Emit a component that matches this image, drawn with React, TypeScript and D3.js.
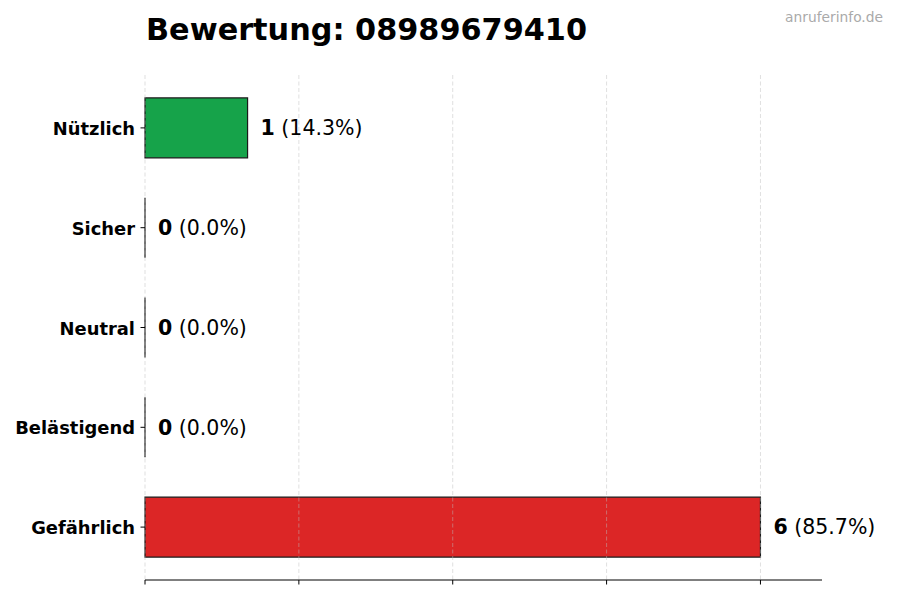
import React from "react";
import * as d3 from "d3";

const categories = ["Nützlich", "Sicher", "Neutral", "Belästigend", "Gefährlich"];
const values = [1, 0, 0, 0, 6];
const colors = ["#16a34a", "#16a34a", "#9ca3af", "#f59e0b", "#dc2626"];
const xTicks = [0, 1.5, 3, 4.5, 6];
const titleText = "Bewertung: 08989679410";
const watermark = "anruferinfo.de";

const W = 900;
const H = 600;
const FONT = "'DejaVu Sans', sans-serif";

export default function App() {
  const total = d3.sum(values);
  const x = d3.scaleLinear().domain([0, 6.6]).range([145, 822]);
  const y = d3.scaleLinear().domain([-0.53, 4.53]).range([75, 580]);
  const barH = y(0.3) - y(-0.3);

  return (
    <svg
      width={W}
      height={H}
      viewBox={`0 0 ${W} ${H}`}
      style={{ position: "absolute", left: 0, top: 0, background: "#fff" }}
      fontFamily={FONT}
    >
      <rect x={0} y={0} width={W} height={H} fill="#fff" />
      <text x={146} y={40} fontSize={30.3} fontWeight="bold" fill="#000">
        {titleText}
      </text>
      <text x={883} y={22} fontSize={13.8} fill="#aaaaaa" textAnchor="end">
        {watermark}
      </text>

      {categories.map((c, i) => {
        const x0 = x(0);
        const x1 = x(values[i]);
        const yc = y(i);
        const y0 = yc - barH / 2;
        const y1 = yc + barH / 2;
        return (
          <g key={c}>
            {values[i] > 0 && (
              <rect x={x0} y={y0} width={x1 - x0} height={barH} fill={colors[i]} />
            )}
            <path
              d={`M${x0},${y0}H${x1}V${y1}H${x0}Z`}
              fill="none"
              stroke="#1a1a1a"
              strokeWidth={1.2}
            />
          </g>
        );
      })}

      {xTicks.map((t) => (
        <line
          key={t}
          x1={x(t)}
          x2={x(t)}
          y1={75}
          y2={580}
          stroke="#bbbbbb"
          strokeOpacity={0.6}
          strokeWidth={0.8}
          strokeDasharray="4 2.5"
        />
      ))}

      <line x1={x.range()[0]} x2={x.range()[1]} y1={580} y2={580} stroke="#000" strokeWidth={1} />
      {xTicks.map((t) => (
        <line key={"t" + t} x1={x(t)} x2={x(t)} y1={580} y2={584.5} stroke="#000" strokeWidth={1} />
      ))}

      {categories.map((c, i) => (
        <g key={"l" + c}>
          <line x1={140.5} x2={145} y1={y(i)} y2={y(i)} stroke="#000" strokeWidth={1} />
          <text
            x={135}
            y={y(i)}
            dy="0.4em"
            textAnchor="end"
            fontSize={17.9}
            fontWeight="bold"
            fill="#000"
          >
            {c}
          </text>
          <text x={x(values[i]) + 13} y={y(i)} dy="0.36em" fontSize={20.5} fill="#000">
            <tspan fontWeight="bold">{values[i]}</tspan>
            <tspan>{` (${((values[i] / total) * 100).toFixed(1)}%)`}</tspan>
          </text>
        </g>
      ))}
    </svg>
  );
}
